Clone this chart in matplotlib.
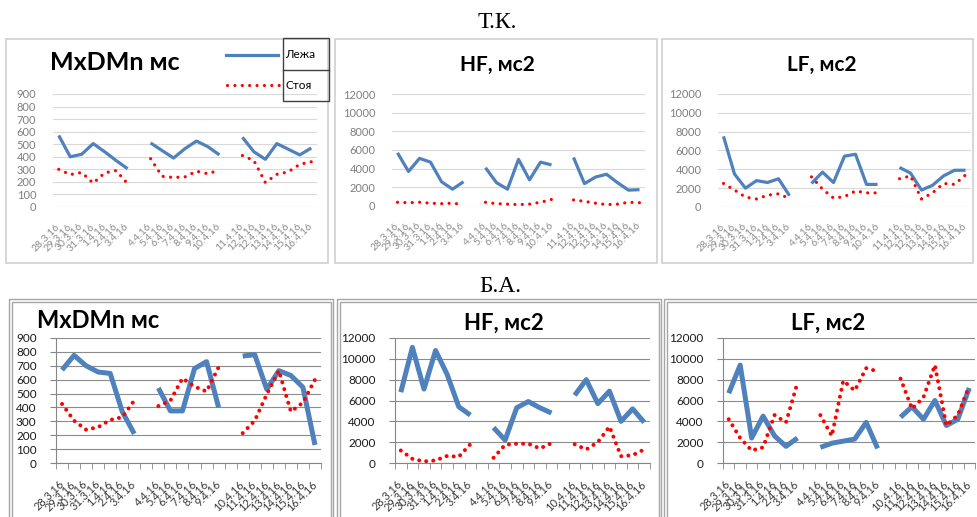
import numpy as np
import matplotlib.pyplot as plt
from matplotlib.patches import Rectangle
from matplotlib.lines import Line2D

plt.rcParams['font.family'] = ['Lato', 'Noto Sans', 'DejaVu Sans']

W, H = 977, 517

# dates (groups are separated by an empty slot on the axis)
week1 = ['28.3.16', '29.3.16', '30.3.16', '31.3.16', '1.4.16', '2.4.16', '3.4.16']
tk_week2 = ['4.4.16', '5.4.16', '6.4.16', '7.4.16', '8.4.16', '9.4.16', '10.4.16']
tk_week3 = ['11.4.16', '12.4.16', '12.4.16', '13.4.16', '14.4.16', '15.4.16', '16.4.16']
ba_week2 = ['4.4.16', '5.4.16', '6.4.16', '7.4.16', '8.4.16', '9.4.16']
ba_week3 = ['10.4.16', '11.4.16', '12.4.16', '13.4.16', '14.4.16', '15.4.16', '16.4.16']

# Т.К.
tk_mxdmn_lie = [[570, 400, 420, 505, 440, 370, 305],
                [510, 450, 390, 465, 525, 480, 415],
                [555, 440, 380, 505, 460, 415, 470]]
tk_mxdmn_stand = [[300, 258, 275, 190, 272, 290, 185],
                  [385, 245, 235, 240, 285, 265, 295],
                  [410, 370, 195, 260, 280, 340, 360]]
tk_hf_lie = [[5700, 3700, 5100, 4700, 2600, 1800, 2600],
             [4100, 2500, 1800, 5000, 2800, 4700, 4400],
             [5200, 2400, 3100, 3400, 2500, 1700, 1750]]
tk_hf_stand = [[400, 350, 400, 300, 250, 300, 150],
               [400, 250, 200, 150, 200, 400, 700],
               [650, 500, 300, 150, 200, 400, 350]]
tk_lf_lie = [[7500, 3500, 2000, 2800, 2600, 3000, 1200],
             [2500, 3700, 2600, 5400, 5600, 2400, 2400],
             [4200, 3600, 1800, 2300, 3300, 3900, 3900]]
tk_lf_stand = [[2500, 1800, 1050, 850, 1250, 1400, 900],
               [3200, 1900, 950, 1100, 1700, 1500, 1500],
               [3000, 3300, 850, 1500, 2500, 2400, 3400]]

# Б.А.
ba_mxdmn_lie = [[670, 775, 700, 655, 645, 370, 210],
                [540, 375, 375, 680, 730, 400],
                [770, 780, 530, 665, 630, 545, 130]]
ba_mxdmn_stand = [[425, 305, 240, 258, 310, 330, 450],
                  [410, 450, 610, 550, 515, 690],
                  [215, 305, 495, 665, 370, 435, 600]]
ba_hf_lie = [[6800, 11100, 7100, 10800, 8500, 5400, 4600],
             [3400, 2200, 5300, 5900, 5300, 4800],
             [6500, 8000, 5700, 6900, 4000, 5200, 3900]]
ba_hf_stand = [[1200, 400, 150, 250, 680, 600, 1800],
               [500, 1750, 1850, 1850, 1400, 1900],
               [1800, 1300, 2000, 3500, 650, 750, 1300]]
ba_lf_lie = [[6700, 9400, 2400, 4500, 2600, 1600, 2400],
             [1500, 1900, 2100, 2300, 3900, 1400],
             [4400, 5400, 4200, 6000, 3600, 4200, 7200]]
ba_lf_stand = [[4200, 2400, 1200, 1500, 4600, 3900, 7700],
               [4600, 2600, 7900, 6950, 9100, 8800],
               [8100, 5200, 6300, 9400, 3600, 4600, 7400]]

BLUE = '#4F81BD'
RED = '#FF0000'


def join(groups, gap):
    out = []
    for k, g in enumerate(groups):
        if k:
            out.append(gap)
        out.extend(g)
    return out


def fig_rect(x0, y0, x1, y1):
    return [x0 / W, 1 - y1 / H, (x1 - x0) / W, (y1 - y0) / H]


def fx(x):
    return x / W


def fy(y):
    return 1 - y / H


def frame(x0, y0, x1, y1, color, lw=1.0):
    r = fig_rect(x0, y0, x1, y1)
    fig.patches.append(Rectangle((r[0], r[1]), r[2], r[3], transform=fig.transFigure,
                                 fill=False, ec=color, lw=lw))


def chart(rect, labels, lie, stand, ymax, ystep, bottom_row):
    ax = fig.add_axes(fig_rect(*rect))
    x = np.arange(len(labels))
    y_lie = np.array(join(lie, np.nan), float)
    y_stand = np.array(join(stand, np.nan), float)
    if bottom_row:
        lw_b, lw_r, off = 3.6, 2.9, 1.75
    else:
        lw_b, lw_r, off = 2.3, 2.3, 2.3
    ax.plot(x, y_lie, color=BLUE, lw=lw_b, solid_joinstyle='round', solid_capstyle='butt')
    ax.plot(x, y_stand, color=RED, lw=lw_r, linestyle=(0, (0.01, off)),
            dash_capstyle='round')
    ax.set_xlim(-0.5, len(labels) - 0.5)
    ax.set_ylim(0, ymax)
    ax.set_yticks(np.arange(0, ymax + 1, ystep))
    ax.set_xticks(x)
    ax.set_xticklabels(labels, rotation=45, ha='right', va='center', rotation_mode='anchor')
    ax.set_axisbelow(True)
    ax.patch.set_alpha(0)
    if bottom_row:
        ax.grid(axis='y', color='#8c8c8c', lw=0.8)
        for s in ['top', 'right']:
            ax.spines[s].set_visible(False)
        for s in ['left', 'bottom']:
            ax.spines[s].set_color('#868686')
            ax.spines[s].set_linewidth(0.8)
        ax.tick_params(axis='y', length=4, color='#868686', pad=10, labelsize=8.5,
                       labelcolor='#1a1a1a')
        ax.tick_params(axis='x', which='major', length=0, pad=14, labelsize=8,
                       labelcolor='#3a3a3a')
        ax.set_xticks(np.arange(-0.5, len(labels), 1.0), minor=True)
        ax.tick_params(axis='x', which='minor', length=4, color='#868686')
    else:
        ax.grid(axis='y', color='#d9d9d9', lw=0.8)
        for s in ax.spines.values():
            s.set_visible(False)
        ax.tick_params(axis='y', length=0, pad=12, labelsize=8, labelcolor='#7f7f7f')
        ax.tick_params(axis='x', length=0, pad=13, labelsize=7.5, labelcolor='#8c8c8c')
    return ax


fig = plt.figure(figsize=(W / 100, H / 100), dpi=100)

tk_labels = join([week1, tk_week2, tk_week3], '')
ba_labels = join([week1, ba_week2, ba_week3], '')

# panel frames
frame(6, 39, 328, 263, '#d0d0d0', 1.2)
frame(335, 39, 657, 263, '#d0d0d0', 1.2)
frame(662, 39, 973, 263, '#d0d0d0', 1.2)
for x0, x1 in [(9, 333), (337, 661), (664, 995)]:
    frame(x0, 299, x1, 530, '#a6a6a6', 1.0)
    frame(x0 + 2.5, 301.5, x1 - 2.5, 530, '#a6a6a6', 1.0)

# Т.К. row
chart((53, 94, 317, 207), tk_labels, tk_mxdmn_lie, tk_mxdmn_stand, 900, 100, False)
chart((392, 94, 645, 206), tk_labels, tk_hf_lie, tk_hf_stand, 12000, 2000, False)
chart((718, 94, 971, 207), tk_labels, tk_lf_lie, tk_lf_stand, 12000, 2000, False)

# Б.А. row
chart((56, 338, 321, 463), ba_labels, ba_mxdmn_lie, ba_mxdmn_stand, 900, 100, True)
chart((395, 338, 650, 463), ba_labels, ba_hf_lie, ba_hf_stand, 12000, 2000, True)
chart((723, 338, 975, 463), ba_labels, ba_lf_lie, ba_lf_stand, 12000, 2000, True)

# chart titles
fig.text(fx(50), fy(62), 'MxDMn мс', fontsize=18, fontweight='bold', ha='left', va='center')
fig.text(fx(497), fy(65), 'HF, мс2', fontsize=15, fontweight='bold', ha='center', va='center')
fig.text(fx(822), fy(65), 'LF, мс2', fontsize=15, fontweight='bold', ha='center', va='center')
fig.text(fx(37), fy(320), 'MxDMn мс', fontsize=17, fontweight='bold', ha='left', va='center')
fig.text(fx(504), fy(323), 'HF, мс2', fontsize=16, fontweight='bold', ha='center', va='center')
fig.text(fx(828), fy(323), 'LF, мс2', fontsize=16, fontweight='bold', ha='center', va='center')

# subject headings
fig.text(fx(497), fy(23), 'Т.К.', fontsize=17, family='Liberation Serif', ha='center', va='center')
fig.text(fx(500), fy(287), 'Б.А.', fontsize=17, family='Liberation Serif', ha='center', va='center')

# legend of the first chart
fig.add_artist(Line2D([fx(226), fx(278)], [fy(55), fy(55)], color=BLUE, lw=2.3,
                      transform=fig.transFigure))
fig.add_artist(Line2D([fx(227), fx(280)], [fy(85), fy(85)], color=RED, lw=2.3,
                      linestyle=(0, (0.01, 2.3)), dash_capstyle='round',
                      transform=fig.transFigure))
frame(283, 38, 329, 101, '#404040', 1.0)
fig.add_artist(Line2D([fx(283), fx(329)], [fy(70), fy(70)], color='#404040', lw=1.0,
                      transform=fig.transFigure))
fig.text(fx(285), fy(55), 'Лежа', fontsize=8.5, ha='left', va='center')
fig.text(fx(285), fy(86), 'Стоя', fontsize=8.5, ha='left', va='center')

fig.savefig('out.png', dpi=100)
